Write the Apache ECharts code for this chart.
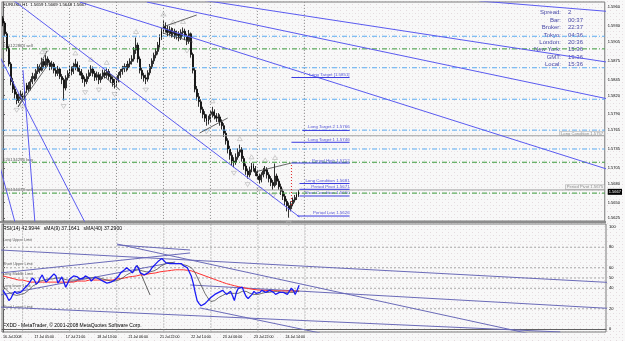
<!DOCTYPE html>
<html><head><meta charset="utf-8">
<script src="https://cdn.jsdelivr.net/npm/echarts@6/dist/echarts.min.js"></script>
<style>html,body{margin:0;padding:0;background:#fff}#c{width:625px;height:341px}</style>
</head><body><div id="c"></div>
<script>
// ---------- DATA ----------
// candles: [open, close, low, high], one per H1 bar
const candles = [
[1.5942,1.5935,1.5930,1.5946],[1.5935,1.5918,1.5914,1.5938],[1.5918,1.5895,1.5890,1.5921],[1.5895,1.5870,1.5866,1.5898],
[1.5870,1.5842,1.5836,1.5873],[1.5842,1.5830,1.5824,1.5848],[1.5830,1.5822,1.5815,1.5835],[1.5822,1.5812,1.5806,1.5826],
[1.5812,1.5818,1.5808,1.5823],[1.5818,1.5822,1.5813,1.5828],[1.5822,1.5815,1.5810,1.5826],[1.5815,1.5828,1.5812,1.5832],
[1.5828,1.5836,1.5824,1.5840],[1.5836,1.5830,1.5826,1.5841],[1.5830,1.5842,1.5828,1.5846],[1.5842,1.5850,1.5838,1.5856],
[1.5850,1.5847,1.5842,1.5855],[1.5847,1.5858,1.5844,1.5862],[1.5858,1.5865,1.5854,1.5870],[1.5865,1.5860,1.5855,1.5869],
[1.5860,1.5874,1.5858,1.5880],[1.5874,1.5868,1.5863,1.5878],[1.5868,1.5878,1.5864,1.5884],[1.5878,1.5872,1.5866,1.5882],
[1.5872,1.5866,1.5860,1.5876],[1.5866,1.5870,1.5861,1.5875],[1.5870,1.5860,1.5855,1.5873],[1.5860,1.5855,1.5850,1.5865],
[1.5855,1.5862,1.5851,1.5867],[1.5862,1.5850,1.5846,1.5865],[1.5850,1.5845,1.5838,1.5854],[1.5845,1.5832,1.5812,1.5848],
[1.5832,1.5848,1.5828,1.5852],[1.5848,1.5855,1.5844,1.5860],[1.5855,1.5862,1.5850,1.5868],[1.5862,1.5858,1.5852,1.5866],
[1.5858,1.5866,1.5854,1.5872],[1.5866,1.5870,1.5860,1.5878],[1.5870,1.5864,1.5858,1.5874],[1.5864,1.5858,1.5852,1.5868],
[1.5858,1.5852,1.5846,1.5862],[1.5852,1.5846,1.5840,1.5856],[1.5846,1.5842,1.5834,1.5850],[1.5842,1.5850,1.5838,1.5855],
[1.5850,1.5856,1.5846,1.5861],[1.5856,1.5862,1.5851,1.5868],[1.5862,1.5855,1.5850,1.5866],[1.5855,1.5849,1.5843,1.5859],
[1.5849,1.5853,1.5844,1.5858],[1.5853,1.5845,1.5838,1.5857],[1.5845,1.5850,1.5840,1.5855],[1.5850,1.5856,1.5846,1.5861],
[1.5856,1.5852,1.5847,1.5860],[1.5852,1.5858,1.5848,1.5863],[1.5858,1.5850,1.5845,1.5862],[1.5850,1.5846,1.5840,1.5854],
[1.5846,1.5840,1.5834,1.5850],[1.5840,1.5838,1.5831,1.5846],[1.5838,1.5845,1.5834,1.5850],[1.5845,1.5852,1.5841,1.5857],
[1.5852,1.5858,1.5848,1.5862],[1.5858,1.5862,1.5853,1.5867],[1.5862,1.5866,1.5857,1.5871],[1.5866,1.5864,1.5858,1.5870],
[1.5864,1.5870,1.5860,1.5875],[1.5870,1.5874,1.5865,1.5879],[1.5874,1.5878,1.5869,1.5884],[1.5878,1.5892,1.5874,1.5897],
[1.5892,1.5900,1.5886,1.5912],[1.5900,1.5878,1.5872,1.5904],[1.5878,1.5860,1.5855,1.5882],[1.5860,1.5852,1.5846,1.5864],
[1.5852,1.5848,1.5842,1.5856],[1.5848,1.5846,1.5838,1.5853],[1.5846,1.5856,1.5842,1.5860],[1.5856,1.5866,1.5852,1.5870],
[1.5866,1.5875,1.5862,1.5879],[1.5875,1.5884,1.5870,1.5888],[1.5884,1.5890,1.5879,1.5895],[1.5890,1.5900,1.5885,1.5905],
[1.5900,1.5912,1.5896,1.5917],[1.5912,1.5922,1.5908,1.5927],[1.5922,1.5930,1.5918,1.5940],[1.5930,1.5926,1.5920,1.5936],
[1.5926,1.5920,1.5914,1.5931],[1.5920,1.5924,1.5915,1.5930],[1.5924,1.5918,1.5912,1.5928],[1.5918,1.5922,1.5913,1.5927],
[1.5922,1.5915,1.5910,1.5926],[1.5915,1.5918,1.5909,1.5923],[1.5918,1.5912,1.5906,1.5922],[1.5912,1.5920,1.5908,1.5925],
[1.5920,1.5922,1.5914,1.5928],[1.5922,1.5914,1.5908,1.5926],[1.5914,1.5906,1.5900,1.5918],[1.5906,1.5918,1.5902,1.5924],
[1.5918,1.5885,1.5880,1.5920],[1.5885,1.5860,1.5855,1.5888],[1.5860,1.5830,1.5825,1.5864],[1.5830,1.5818,1.5812,1.5835],
[1.5818,1.5810,1.5802,1.5824],[1.5810,1.5798,1.5792,1.5814],[1.5798,1.5790,1.5784,1.5802],[1.5790,1.5784,1.5778,1.5795],
[1.5784,1.5779,1.5772,1.5790],[1.5779,1.5782,1.5774,1.5788],[1.5782,1.5790,1.5778,1.5796],[1.5790,1.5794,1.5785,1.5802],
[1.5794,1.5788,1.5782,1.5798],[1.5788,1.5784,1.5778,1.5792],[1.5784,1.5786,1.5778,1.5792],[1.5786,1.5778,1.5772,1.5790],
[1.5778,1.5772,1.5766,1.5782],[1.5772,1.5760,1.5754,1.5776],[1.5760,1.5748,1.5742,1.5764],[1.5748,1.5735,1.5728,1.5752],
[1.5735,1.5725,1.5718,1.5740],[1.5725,1.5716,1.5708,1.5730],[1.5716,1.5714,1.5706,1.5722],[1.5714,1.5722,1.5710,1.5728],
[1.5722,1.5730,1.5718,1.5736],[1.5730,1.5734,1.5724,1.5742],[1.5734,1.5720,1.5715,1.5738],[1.5720,1.5708,1.5702,1.5724],
[1.5708,1.5700,1.5694,1.5712],[1.5700,1.5694,1.5688,1.5704],[1.5694,1.5702,1.5690,1.5707],[1.5702,1.5708,1.5698,1.5713],
[1.5708,1.5704,1.5699,1.5712],[1.5704,1.5698,1.5692,1.5708],[1.5698,1.5692,1.5686,1.5702],[1.5692,1.5686,1.5680,1.5696],
[1.5686,1.5694,1.5682,1.5698],[1.5694,1.5700,1.5690,1.5705],[1.5700,1.5702,1.5695,1.5708],[1.5702,1.5694,1.5688,1.5706],
[1.5694,1.5688,1.5682,1.5698],[1.5688,1.5682,1.5676,1.5692],[1.5682,1.5677,1.5670,1.5686],[1.5677,1.5692,1.5674,1.5712],
[1.5692,1.5684,1.5678,1.5696],[1.5684,1.5675,1.5670,1.5688],[1.5675,1.5668,1.5662,1.5680],[1.5668,1.5660,1.5654,1.5672],
[1.5660,1.5652,1.5646,1.5664],[1.5652,1.5645,1.5636,1.5656],[1.5645,1.5640,1.5626,1.5650],[1.5640,1.5648,1.5636,1.5652],
[1.5648,1.5654,1.5644,1.5658],[1.5654,1.5658,1.5650,1.5662],[1.5658,1.5662,1.5654,1.5666],[1.5662,1.5667,1.5659,1.5670]
];
const rsi14 = [38,35,32,28,30,34,37,35,34,36, 37,40,42,44,47,50,48,44,46,50, 53,49,46,48,50,51,54,52,45,48,
 51,46,41,45,49,50,52,53,51,49, 48,50,52,53,50,47,48,51,51,49, 48,47,46,45,46,46,46,48,50,52,
 55,56,58,60,60,57,55,58,62,60, 55,54,53,53,55,57,60,62,64,66, 67,69,68,65,64,64,63,64,63,64,
 63,64,62,61,60,60,52,45,36,28, 25,23,22,25,27,29,31,32,34,35, 36,37,38,36,34,35,37,33,28,36,
 40,41,41,36,32,30,29,34,37,35, 34,36,38,37,36,37,38,38,36,34, 35,36,37,36,35,34,37,40,38,34, 38,42.99];
const rsiSma9 = [42,40,38,36,35,34,33,33,33,34,34, 35,36,38,40,42,43,44,45,47,48, 48,49,49,49,49,50,50,50,50,49,
 49,48,48,48,48,48,48,49,49,49, 50,50,50,50,50,50,50,50,50,49, 49,49,48,48,47,47,47,47,48,49,
 50,51,53,54,55,56,57,57,58,58, 57,57,56,56,56,56,57,58,59,61, 62,63,64,65,65,65,65,64,64,64,
 64,63,63,62,62,60,58,55,51,47, 43,39,35,32,29,27,27,28,29,31, 32,33,34,35,35,35,35,35,35,35,
 36,37,37,37,36,35,34,34,34,34, 35,35,35,36,36,36,36,37,37,37, 36,36,36,36,36,36,36,36,36,37,37.16];
const rsiSma40 = [52,52,51,51,50,50,49,49,48,48,48, 47,47,47,46,46,46,46,46,46,46,46,46,46,46,46,46,46,46,46,46,
 46,46,46,46,46,46,47,47,47,47,47,47,48,48,48,48,48,48,48,48,48,48,48,48,48,
 48,48.5,49,49,49.5,50,50,50.5,51,51, 51.5,52,52,52.5,53,53,53,53.5,54,54, 54.5,55,55,55.5,56,56,56.5,57,57,57, 57.5,57.5,58,58,58,58,58,58,57.5,57.5,
 57,56.3,55.6,54.9,54.2,53.5,52.8,52.1,51.4,50.7, 50,49.3,48.6,47.9,47.2,46.5,45.8,45.1,44.5,44,
 43.5,43,42.5,42,41.6,41.2,40.8,40.4,40,39.7, 39.4,39.1,38.8,38.6,38.4,38.2,38.1,38,37.9,37.8,
 37.7,37.7,37.6,37.6,37.5,37.5,37.4,37.4,37.4,37.3, 37.3,37.3,37.3,37.3,37.3,37.29];
const priceTicks = [1.5960,1.5930,1.5905,1.5875,1.5845,1.5820,1.5790,1.5765,1.5735,1.5705,1.5680,1.5650,1.5625];
const lastPrice = 1.5667;
const rsiTicks = [0,20,40,50,60,80,100];
const rsiLevels = [80,60,50,40,20];
const timeLabels = ['16 Jul 2008','17 Jul 05:00','17 Jul 21:00','18 Jul 13:00','21 Jul 06:00','21 Jul 22:00','22 Jul 14:00','23 Jul 06:00','23 Jul 22:00','24 Jul 14:00'];
const timeLabelBars = [0,16,32,48,64,80,96,112,128,144];
const gridBars = [10,34,58,82,106,130,154];
const lightBlueLevels = [1.5914,1.5864,1.5814,1.5765,1.5735];
const greenLevels = [1.5894,1.5714,1.5665];
const grayLevels = [1.5756,1.5670];
// trend lines [ [bar, price], [bar, price] ]
const priceTrendLines = [
 [[5.1,1.59716],[151.5,1.56271]],
 [[101.5,1.59716],[309.7,1.58725]],
 [[73.5,1.59684],[309.7,1.58141]],
 [[243.4,1.59700],[309.7,1.59533]],
 [[39.3,1.59684],[309.7,1.57020]],
 [[-1.5,1.57064],[6.1,1.56191]],
 [[10.2,1.58604],[16.3,1.56191]],
 [[-1.5,1.58811],[41.8,1.56191]]
];
const patternLines = [
 [[7.7,1.58017],[22.5,1.58906]],[[7.7,1.58017],[24.0,1.58731]],
 [[52.1,1.58604],[59.7,1.58414]],[[52.1,1.58493],[59.7,1.58287]],
 [[81.6,1.59287],[99.0,1.59478]],[[81.6,1.59192],[96.9,1.59049]],
 [[100.5,1.57604],[114.8,1.57842]],
 [[128.6,1.56985],[147.4,1.57128]]
];
const periodHighDrop = [[147.4,1.57096],[147.4,1.56430]];
const rsiTrendLines = [
 [[-1.5,77.3],[309.7,45.6]],
 [[-1.5,54.9],[95.4,74.4]],
 [[-1.5,33.4],[87.8,65.6]],
 [[-1.5,21.7],[284.2,-2.6]],
 [[95.4,43.2],[309.7,20.3]],
 [[100.5,20.8],[161.7,-3.6]],
 [[58.2,83.1],[268.9,-4.5]],
 [[58.2,82.2],[95.4,77.3]]
];
const rsiPatternLines = [[[68.4,62.7],[75.0,33.4]]];
const upFractals = [[20,1.5880],[22,1.5884],[37,1.5878],[45,1.5868],[53,1.5863],[68,1.5912],[82,1.5940],[87,1.5927],[92,1.5928],[107,1.5802],[121,1.5742],[127,1.5713],[134,1.5708],[139,1.5712]];
const downFractals = [[7,1.5806],[10,1.5810],[31,1.5812],[42,1.5834],[49,1.5838],[57,1.5831],[73,1.5838],[94,1.5900],[104,1.5772],[118,1.5706],[125,1.5688],[131,1.5680],[138,1.5670],[146,1.5626]];
const targetNotes = [
 {text:'Long Target [1.5851]', bar:177.1, price:1.58533},
 {text:'Long Target 2 1.5766', bar:177.1, price:1.57695},
 {text:'Long Target 1 1.5746', bar:177.1, price:1.57493},
 {text:'Period High 1.5712', bar:177.1, price:1.57164},
 {text:'Long Condition 1.5681', bar:177.1, price:1.56842},
 {text:'Period Pivot 1.5671', bar:177.1, price:1.56751},
 {text:'Short Condition 1.5660', bar:177.1, price:1.56651},
 {text:'Period Low 1.5626', bar:177.1, price:1.56334}
];
const targetUnderlines = [
 [[147.4,1.58485],[177.1,1.58485]],[[153.0,1.57645],[177.1,1.57645]],[[147.4,1.57457],[177.1,1.57457]],
 [[147.4,1.57128],[177.1,1.57128]],[[151.5,1.56802],[177.1,1.56802]],[[151.5,1.56710],[177.1,1.56710]],
 [[151.5,1.56604],[177.1,1.56604]],[[150.5,1.56286],[177.1,1.56286]]
];
const orderNotes = [
 {text:'#20122864 sell', price:1.58990},
 {text:'#20134296 buy', price:1.57180},
 {text:'#20134078 sell', price:1.56700}
];
const boxNotes = [
 {text:'Long Condition 1.5757', price:1.57596},
 {text:'Period Pivot 1.5675', price:1.56746}
];
const rsiNotes = [
 {text:'Long Upper Limit', value:87.0},
 {text:'Short Upper Limit', value:63.6},
 {text:'Long Middle Limit', value:53.9},
 {text:'Long lower Limit', value:42.2},
 {text:'Short Lower Limit', value:21.7}
];
const infoNames = ['Spread:','Bar:','Broker:','Tokyo:','London:','New York:','GMT:','Local:'];
const infoValues = ['2','00:37','22:37','04:36','20:36','15:36','19:36','15:36'];
const headerText = 'EURUSD,H1  1.5659 1.5669 1.5648 1.5667';
const rsiHeader = 'RSI(14) 42.9944   sMA(9) 37.1641   sMA(40) 37.2900';
const footerText = 'FXDD - MetaTrader, \u00a9 2001-2008 MetaQuotes Software Corp.';

// ---------- CHART ----------
const FONT = 'Liberation Sans';
const NCAT = 308;
const XMIN = -0.5, XMAX = NCAT - 0.5;
const cats = [];
for (let i = 0; i < NCAT; i++) cats.push(String(i));

const pat = document.createElement('canvas'); pat.width = 6; pat.height = 6;
const pg = pat.getContext('2d');
pg.fillStyle = '#f8f8f8'; pg.fillRect(0,0,6,6);
pg.fillStyle = '#e4dade'; pg.fillRect(1,1,1,1); pg.fillRect(4,4,1,1);
pg.fillStyle = '#ebebeb'; pg.fillRect(4,1,1,1);

const series = [];
const seg = (d, xi, yi, color, w, type) => ({type:'line', xAxisIndex:xi, yAxisIndex:yi, data:d, symbol:'none', silent:true, clip:true,
  lineStyle:{color:color, width:w, type:type||'solid'}});
const DASHDOT = [5,2,1,2];
// vertical grid (both panes)
gridBars.forEach(b=>{
  series.push(seg([[b,1.5],[b,1.7]],1,0,'#8a8a8a',1,[1,2]));
  series.push(seg([[b,-10],[b,110]],2,1,'#8a8a8a',1,[1,2]));
});
// horizontal levels
lightBlueLevels.forEach(v=>series.push(seg([[XMIN,v],[XMAX,v]],1,0,'#5aaaf0',1,DASHDOT)));
greenLevels.forEach(v=>series.push(seg([[XMIN,v],[XMAX,v]],1,0,'#3a9a3a',1,DASHDOT)));
grayLevels.forEach(v=>series.push(seg([[XMIN,v],[XMAX,v]],1,0,'#a0a0a0',1)));
rsiLevels.forEach(v=>series.push(seg([[XMIN,v],[XMAX,v]],2,1,'#a8a8a8',1,[2,2])));
// candles
series.push({type:'candlestick', xAxisIndex:0, yAxisIndex:0, data:candles, barWidth:1.4, silent:true,
  itemStyle:{color:'#d8d8d8', color0:'#000000', borderColor:'#000000', borderColor0:'#000000', borderWidth:0.8}});
// fractals
series.push({type:'scatter', xAxisIndex:1, yAxisIndex:0, data:upFractals, symbol:'triangle', symbolSize:[5,4], symbolOffset:[0,-6], silent:true,
  itemStyle:{color:'rgba(0,0,0,0)', borderColor:'#b4b4b4', borderWidth:0.8}});
series.push({type:'scatter', xAxisIndex:1, yAxisIndex:0, data:downFractals, symbol:'triangle', symbolRotate:180, symbolSize:[5,4], symbolOffset:[0,6], silent:true,
  itemStyle:{color:'rgba(0,0,0,0)', borderColor:'#b4b4b4', borderWidth:0.8}});
// trend lines
priceTrendLines.forEach(d=>series.push(seg(d,1,0,'#5a5af0',1)));
patternLines.forEach(d=>series.push(seg(d,1,0,'#404040',0.8)));
targetUnderlines.forEach(d=>series.push(seg(d,1,0,'#3a3ae0',1)));
series.push(seg(periodHighDrop,1,0,'#e02020',1,[1,2]));
rsiTrendLines.forEach(d=>series.push(seg(d,2,1,'#6a6ab8',1)));
rsiPatternLines.forEach(d=>series.push(seg(d,2,1,'#404040',0.8)));
// RSI lines
series.push({type:'line', xAxisIndex:2, yAxisIndex:1, data:rsiSma40.map((v,i)=>[i,v]), symbol:'none', silent:true, lineStyle:{color:'#ff3030', width:1}});
series.push({type:'line', xAxisIndex:2, yAxisIndex:1, data:rsiSma9.map((v,i)=>[i,v]), symbol:'none', silent:true, lineStyle:{color:'#505050', width:0.8}});
series.push({type:'line', xAxisIndex:2, yAxisIndex:1, data:rsi14.map((v,i)=>[i,v]), symbol:'none', silent:true, lineStyle:{color:'#1a1af5', width:1.3}});
// text notes
const noteSeries = (items, xi, yi, pos, style) => ({type:'scatter', xAxisIndex:xi, yAxisIndex:yi, symbolSize:0, silent:true, clip:false,
  data: items.map(n=>({value:n.v, label:{formatter:n.text}})),
  label:Object.assign({show:true, position:pos, distance:0, fontFamily:FONT}, style)});
series.push(noteSeries(targetNotes.map(n=>({v:[n.bar,n.price], text:n.text})),1,0,'left',{fontSize:4.4, color:'#2a2ad0'}));
series.push(noteSeries(orderNotes.map(n=>({v:[0,n.price], text:n.text})),1,0,'right',{fontSize:4.4, color:'#303030'}));
series.push(noteSeries(boxNotes.map(n=>({v:[307.2,n.price], text:n.text})),1,0,'left',{fontSize:4.2, color:'#707070', borderColor:'#a0a0a0', borderWidth:0.6, backgroundColor:'#f6f6f6', padding:[0,1]}));
series.push(noteSeries(rsiNotes.map(n=>({v:[0,n.value], text:n.text})),2,1,'right',{fontSize:3.8, color:'#303030'}));

const graphic = [];
graphic.push({type:'rect', shape:{x:0, y:221, width:606, height:2}, style:{fill:'#8c8c8c'}, silent:true});
graphic.push({type:'text', x:3, y:2.5, style:{text:headerText, font:'4.3px "'+FONT+'"', fill:'#000'}, silent:true});
graphic.push({type:'text', x:3, y:226.5, style:{text:rsiHeader, font:'5px "'+FONT+'"', fill:'#000'}, silent:true});
graphic.push({type:'text', x:3, y:323.5, style:{text:footerText, font:'5px "'+FONT+'"', fill:'#000'}, silent:true});
infoNames.forEach((n,i)=>{
  graphic.push({type:'text', x:561, y:12.7+7.4*i, style:{text:n, font:'6px "'+FONT+'"', fill:'#4a4aa8', align:'right', verticalAlign:'middle'}, silent:true});
  graphic.push({type:'text', x:568, y:12.7+7.4*i, style:{text:infoValues[i], font:'6px "'+FONT+'"', fill:'#4a4aa8', align:'left', verticalAlign:'middle'}, silent:true});
});

const option = {
  animation:false,
  backgroundColor:{image:pat, repeat:'repeat'},
  grid:[
    {left:2, right:19, top:2, height:219, show:true, borderColor:'#7a7a7a', borderWidth:1, backgroundColor:'transparent'},
    {left:2, right:19, top:224, height:108, show:true, borderColor:'#7a7a7a', borderWidth:1, backgroundColor:'transparent'}
  ],
  xAxis:[
    {type:'category', gridIndex:0, data:cats, boundaryGap:true, show:false},
    {type:'value', gridIndex:0, min:XMIN, max:XMAX, show:false},
    {type:'value', gridIndex:1, min:XMIN, max:XMAX, position:'bottom',
      axisLine:{show:true, lineStyle:{color:'#606060'}}, axisTick:{show:false}, splitLine:{show:false},
      axisLabel:{customValues:timeLabelBars, formatter:v=>timeLabels[timeLabelBars.indexOf(v)], align:'left', fontSize:3.6, fontFamily:FONT, color:'#000', margin:2.5}}
  ],
  yAxis:[
    {type:'value', gridIndex:0, position:'right', min:1.56207, max:1.59684,
      axisLine:{show:true, lineStyle:{color:'#606060'}}, splitLine:{show:false},
      axisTick:{show:true, length:2, customValues:priceTicks, lineStyle:{color:'#606060'}},
      axisLabel:{customValues:priceTicks.concat([lastPrice]), fontSize:4, fontFamily:FONT, color:'#000', margin:3,
        formatter:v=> v===lastPrice ? '{cur|'+v.toFixed(4)+'}' : v.toFixed(4),
        rich:{cur:{backgroundColor:'#000', color:'#fff', fontSize:4, fontFamily:FONT, padding:[1,1]}}}},
    {type:'value', gridIndex:1, position:'right', min:-2.63, max:102.63,
      axisLine:{show:true, lineStyle:{color:'#606060'}}, splitLine:{show:false},
      axisTick:{show:true, length:2, customValues:rsiTicks, lineStyle:{color:'#606060'}},
      axisLabel:{customValues:rsiTicks, fontSize:4, fontFamily:FONT, color:'#000', margin:3}}
  ],
  graphic:graphic,
  series:series
};
const chart = echarts.init(document.getElementById('c'), null, {renderer:'canvas', width:625, height:341});
chart.setOption(option);
</script>
</body></html>
